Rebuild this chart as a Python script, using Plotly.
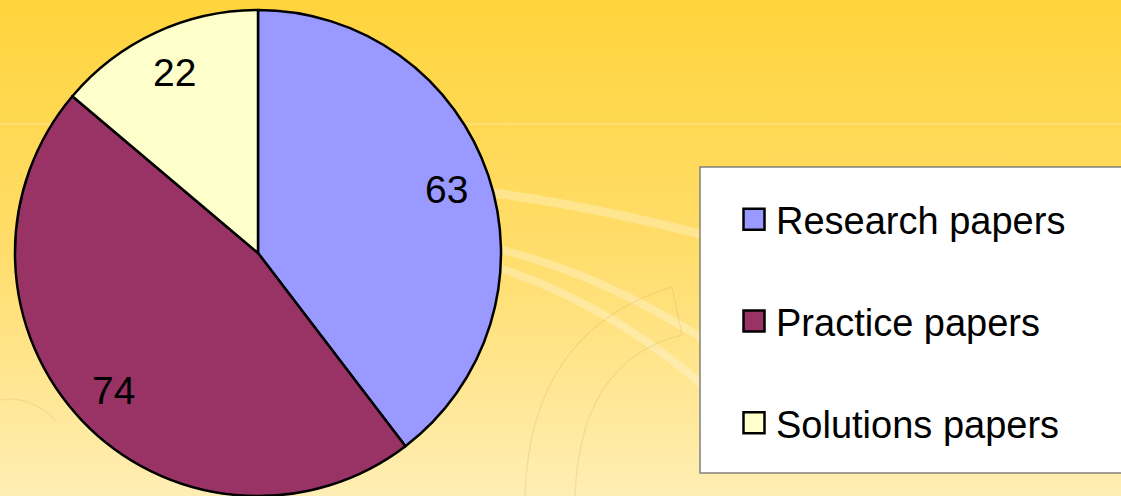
import base64
import math
import plotly.graph_objects as go

# ---- data ----
categories = ["Research papers", "Practice papers", "Solutions papers"]
values = [63, 74, 22]
colors = ["#9999FF", "#993366", "#FFFFCC"]

W, H = 1121, 496
CX, TOP, R = 258, 10, 243  # pie geometry in pixels

# ---- background (gradient + soft decorative arcs) as inline SVG ----
svg = f"""<svg xmlns='http://www.w3.org/2000/svg' width='{W}' height='{H}' viewBox='0 0 {W} {H}' preserveAspectRatio='none'>
<defs><linearGradient id='g' x1='0' y1='0' x2='0' y2='1'>
<stop offset='0' stop-color='#FFD43C'/>
<stop offset='0.5' stop-color='#FFDD6A'/>
<stop offset='1' stop-color='#FFEEB4'/>
</linearGradient></defs>
<rect x='0' y='0' width='{W}' height='{H}' fill='url(#g)'/>
<line x1='0' y1='124' x2='{W}' y2='124' stroke='#FFFFFF' stroke-opacity='0.35' stroke-width='1'/>
<path d='M 470 190 Q 600 205 760 250' stroke='#FFFFFF' stroke-opacity='0.28' stroke-width='9' fill='none'/>
<path d='M 480 245 Q 600 270 720 350' stroke='#FFFFFF' stroke-opacity='0.28' stroke-width='8' fill='none'/>
<path d='M 480 262 Q 610 300 720 400' stroke='#FFFFFF' stroke-opacity='0.28' stroke-width='8' fill='none'/>
<path d='M 525 496 Q 530 330 672 287 L 682 335 Q 580 360 575 496' stroke='#B09050' stroke-opacity='0.18' stroke-width='1.2' fill='none'/>
<path d='M 0 400 Q 30 395 55 420' stroke='#B09050' stroke-opacity='0.15' stroke-width='1.2' fill='none'/>
</svg>"""
bg_src = "data:image/svg+xml;base64," + base64.b64encode(svg.encode()).decode()

fig = go.Figure()

fig.add_trace(go.Pie(
    labels=[c + ("<br> " if i < len(categories) - 1 else "") for i, c in enumerate(categories)],
    values=values,
    marker=dict(colors=colors, line=dict(color="#000000", width=2.5)),
    sort=False,
    direction="clockwise",
    rotation=0,
    textinfo="none",
    hoverinfo="label+value",
    domain=dict(x=[(CX - R) / W, (CX + R) / W], y=[0, 1 - TOP / H]),
))

# value labels placed along each slice's mid-angle
total = sum(values)
cy = TOP + R
cum = 0
annotations = []
for v in values:
    mid = (cum + v / 2) / total * 2 * math.pi
    cum += v
    px = CX + 0.82 * R * math.sin(mid)
    py = cy - 0.82 * R * math.cos(mid)
    annotations.append(dict(
        x=px / W, y=1 - py / H, xref="paper", yref="paper",
        xanchor="center", yanchor="middle",
        text=str(v), showarrow=False,
        font=dict(family="Liberation Sans, Arial, sans-serif", size=39, color="#000000"),
    ))

fig.update_layout(
    width=W, height=H,
    margin=dict(l=0, r=0, t=0, b=0),
    paper_bgcolor="#FFE07A",
    plot_bgcolor="rgba(0,0,0,0)",
    images=[dict(source=bg_src, xref="paper", yref="paper", x=0, y=1,
                 sizex=1, sizey=1, sizing="stretch", layer="below",
                 xanchor="left", yanchor="top")],
    shapes=[dict(type="rect", xref="paper", yref="paper",
                 x0=700 / W, x1=1130 / W, y0=1 - 473 / H, y1=1 - 167 / H,
                 fillcolor="#FFFFFF", line=dict(color="#808080", width=1.5),
                 layer="below")],
    annotations=annotations,
    showlegend=True,
    legend=dict(
        x=736 / W, y=1 - 188 / H, xanchor="left", yanchor="top",
        bgcolor="rgba(0,0,0,0)", borderwidth=0,
        valign="top",
        font=dict(family="Liberation Sans, Arial, sans-serif", size=38, color="#000000"),
    ),
)

post_js = """
document.body.style.margin='0';
document.body.style.overflow='hidden';
(function () {
  function big() {
    document.querySelectorAll('.legendpie').forEach(function (p) {
      p.setAttribute('d', 'M8.5,10.5H-12.5V-10.5H8.5Z');
    });
  }
  big();
  setTimeout(big, 0);
  var gd = document.querySelector('.js-plotly-plot');
  if (gd && gd.on) { gd.on('plotly_afterplot', big); }
})();
"""

fig.write_html(
    "out.html",
    config={"displayModeBar": False},
    post_script=post_js,
)
